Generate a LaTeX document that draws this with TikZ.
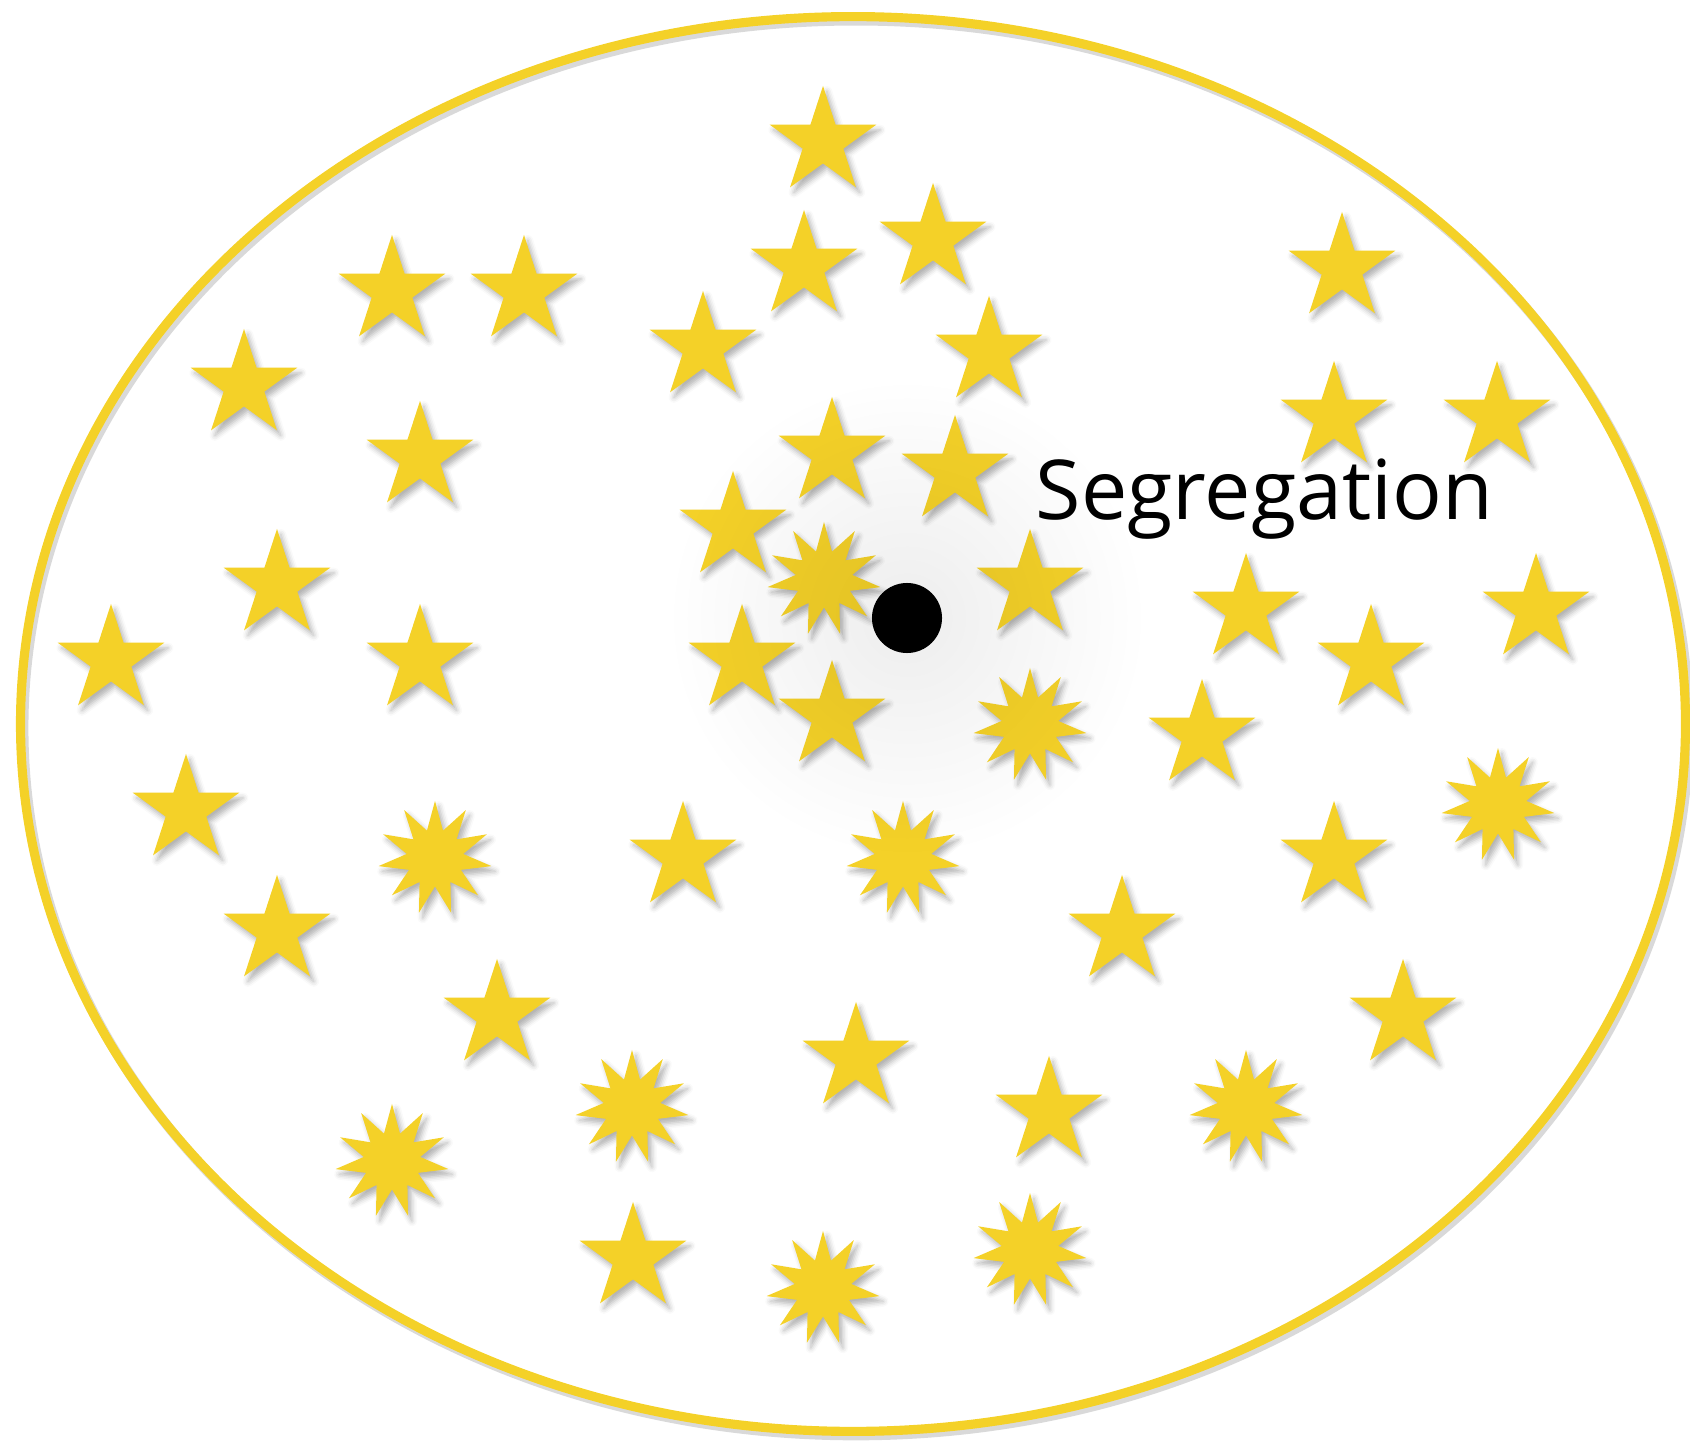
\documentclass[tikz,border=0pt]{standalone}
\usepackage{fontspec}
\newfontfamily\handfont{Open Sans}
\usepackage{tikz}
\usetikzlibrary{shapes.geometric,shadows.blur}
\definecolor{staryellow}{RGB}{244,209,40}

\tikzset{
  goldstar/.style={star, star points=5, star point ratio=2.618, minimum size=1.12cm,
    inner sep=0pt, fill=staryellow,
    blur shadow={shadow xshift=1.1pt, shadow yshift=-1.5pt, shadow blur radius=1.5pt, shadow opacity=30}},
  goldburst/.style={star, star points=11, star point ratio=2.0, minimum size=1.14cm,
    inner sep=0pt, fill=staryellow,
    blur shadow={shadow xshift=1.1pt, shadow yshift=-1.5pt, shadow blur radius=1.5pt, shadow opacity=30}}
}

\begin{document}
\begin{tikzpicture}[x=0.01cm, y=-0.01cm]
      \useasboundingbox (0,0) rectangle (1690,1449);
      \coordinate (core) at (907,618);
      % Border
      \draw[line width=2.8pt, black, opacity=0.15] ([shift={(3,4)}]853,724) ellipse (8.32cm and 7.07cm);
      \draw[line width=2.6pt, staryellow] (853,724) ellipse (8.32cm and 7.07cm);
      % Stars
      \foreach \x/\y [count=\i] in {823/142, 804/266, 933/239, 392/291, 524/291, 703/347,
          989/352, 244/385, 1342/268, 1334/417, 1497/417, 420/457, 832/453, 955/471,
          733/527, 277/585, 1030/585, 1246/609, 1536/609, 111/660, 420/660, 742/660,
          1371/660, 832/716, 1202/735, 186/810, 683/857, 1334/857, 277/931, 1122/931,
          497/1015, 1403/1015, 856/1058, 1049/1112, 633/1258}
        \node[goldstar] (s\i) at (\x,\y) {};
      % Bursts
      \foreach \x/\y [count=\i] in {824/579, 1030/725, 435/858, 903/858, 1498/805,
          632/1107, 392/1161, 1246/1107, 823/1288, 1030/1250}
        \node[goldburst] (b\i) at (\x,\y) {};
      % Glow round the centre
      \shade[blend mode=multiply, inner color=black!7, outer color=white] (core) circle (2.4cm);
      % Centre dot and label
      \node[circle, fill=black, minimum size=0.70cm, inner sep=0pt] (dot) at (core) {};
      \node[anchor=base west, inner sep=0pt, font=\handfont\fontsize{23.5}{28}\selectfont] (label) at (1035,520) {Segregation};
    \end{tikzpicture}
\end{document}
